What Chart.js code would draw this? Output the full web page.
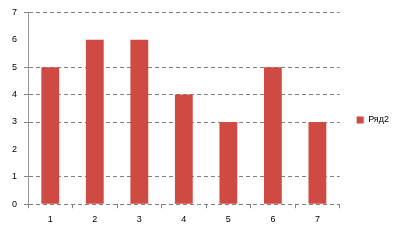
<!DOCTYPE html>
<html><head><meta charset="utf-8">
<script src="https://cdn.jsdelivr.net/npm/chart.js@4/dist/chart.umd.min.js"></script>
<style>html,body{margin:0;padding:0;background:#fff}#w{width:400px;height:240px}</style>
</head><body><div id="w"><canvas id="c" width="400" height="240"></canvas></div>
<script>
const categories = ['1','2','3','4','5','6','7'];
const seriesName = 'Ряд2';
const values = [5, 6, 6, 4, 3, 5, 3];
const yTicks = [0,1,2,3,4,5,6,7];
const hiddenGrid = [2, 6];

const barColor = '#D04A44';
const gridColor = '#808080';
Chart.defaults.font.family = '"Liberation Sans", Arial, sans-serif';
Chart.defaults.font.size = 9;
Chart.defaults.color = '#000';

new Chart(document.getElementById('c'), {
  type: 'bar',
  data: {
    labels: categories,
    datasets: [{ label: seriesName, data: values, backgroundColor: barColor, borderWidth: 0,
      categoryPercentage: 1.0, barPercentage: 0.4 }]
  },
  options: {
    responsive: false,
    animation: false,
    layout: { padding: { left: 5, top: 9, right: 1, bottom: 9 } },
    plugins: {
      tooltip: { enabled: false },
      legend: {
        position: 'right',
        labels: { boxWidth: 7, boxHeight: 7, padding: 17, font: { size: 9 } }
      }
    },
    scales: {
      x: {
        grid: { drawOnChartArea: false, drawTicks: true, tickLength: 4, tickColor: gridColor, offset: true },
        border: { display: false },
        ticks: { padding: 6, maxRotation: 0 }
      },
      y: {
        min: 0, max: 7,
        afterBuildTicks: s => { s.ticks = yTicks.map(v => ({ value: v })); },
        grid: {
          color: c => hiddenGrid.includes(c.tick && c.tick.value) ? 'rgba(0,0,0,0)' : gridColor,
          tickColor: c => hiddenGrid.includes(c.tick && c.tick.value) ? 'rgba(0,0,0,0)' : gridColor,
          tickLength: 4, lineWidth: 1
        },
        border: { display: true, color: '#999', width: 1, dash: [4, 3] },
        ticks: { padding: 7, stepSize: 1 }
      }
    }
  }
});
</script></body></html>
